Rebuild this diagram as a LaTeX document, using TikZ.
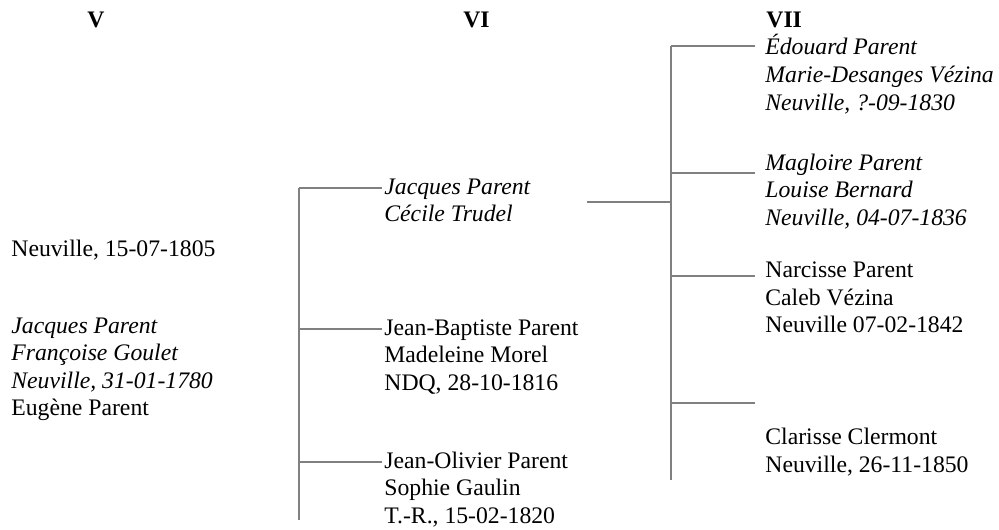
\documentclass[tikz,border=0pt]{standalone}
\usepackage{fontspec}
\setmainfont{Liberation Serif}
\definecolor{linegray}{RGB}{128,128,128}
\begin{document}
\begin{tikzpicture}[x=0.5pt,y=-0.5pt,
  txt/.style={anchor=base west, inner sep=0pt, align=left, font=\fontsize{11.85}{13.8}\selectfont},
  hdr/.style={anchor=base, inner sep=0pt, font=\fontsize{11.85}{13.8}\selectfont\bfseries},
  link/.style={draw=linegray, line width=1pt}]
\useasboundingbox (0,0) rectangle (999,529);

% headers
\node[hdr] (h5) at (96,28) {V};
\node[hdr] (h6) at (476.5,28) {VI};
\node[hdr, anchor=base west] (h7) at (766,28) {VII};

% generation V (anchor = baseline of the last line)
\node[txt] (v1) at (11,256) {Neuville, 15-07-1805};
\node[txt] (v2) at (11,415.8) {\textit{Jacques Parent}\\\textit{Françoise Goulet}\\\textit{Neuville, 31-01-1780}\\Eugène Parent};

% generation VI
\node[txt] (a1) at (384,221.6) {\textit{Jacques Parent}\\\textit{Cécile Trudel}};
\node[txt] (a2) at (384,390.2) {Jean-Baptiste Parent\\Madeleine Morel\\NDQ, 28-10-1816};
\node[txt] (a3) at (384,523.2) {Jean-Olivier Parent\\Sophie Gaulin\\T.-R., 15-02-1820};

% generation VII
\node[txt] (c1) at (765,110.2) {\textit{Édouard Parent}\\\textit{Marie-Desanges Vézina}\\\textit{Neuville, ?-09-1830}};
\node[txt] (c2) at (765,225.2) {\textit{Magloire Parent}\\\textit{Louise Bernard}\\\textit{Neuville, 04-07-1836}};
\node[txt] (c3) at (765,332.7) {Narcisse Parent\\Caleb Vézina\\Neuville 07-02-1842};
\node[txt] (c4) at (765,472.1) {Clarisse Clermont\\Neuville, 26-11-1850};

% bracket 1
\coordinate (b1top) at (299,188.3);
\coordinate (b1mid) at (299,329.3);
\coordinate (b1low) at (299,461.7);
\coordinate (b1bot) at (299,520);
\draw[link] (b1top) -- (b1bot);
\draw[link] (b1top) -- ([xshift=-1pt]b1top -| a1.west);
\draw[link] (b1mid) -- ([xshift=-1pt]b1mid -| a2.west);
\draw[link] (b1low) -- ([xshift=-1pt]b1low -| a3.west);

% link from Jacques/Cécile to bracket 2
\coordinate (jstart) at (587,201.7);
\coordinate (b2join) at (671,201.7);
\draw[link] (jstart) -- (b2join);

% bracket 2
\coordinate (b2top) at (671,45.7);
\coordinate (b2b) at (671,173.3);
\coordinate (b2c) at (671,276);
\coordinate (b2d) at (671,402.7);
\coordinate (b2bot) at (671,480);
\draw[link] (b2top) -- (b2bot);
\draw[link] (b2top) -- ([xshift=-5pt]b2top -| c1.west);
\draw[link] (b2b) -- ([xshift=-5pt]b2b -| c2.west);
\draw[link] (b2c) -- ([xshift=-5pt]b2c -| c3.west);
\draw[link] (b2d) -- ([xshift=-5pt]b2d -| c4.west);
\end{tikzpicture}
\end{document}
